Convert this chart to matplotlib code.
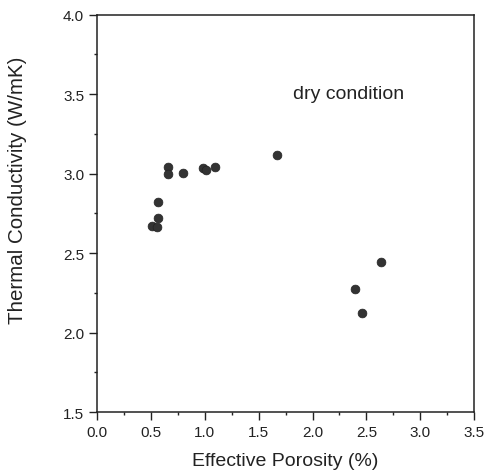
import matplotlib
matplotlib.use("Agg")
import matplotlib.pyplot as plt
from matplotlib.ticker import MultipleLocator

plt.rcParams['font.family'] = ['Liberation Sans', 'DejaVu Sans']

porosity = [0.664, 0.664, 0.797, 0.988, 1.013, 1.094, 1.674, 0.571, 0.571, 0.510, 0.556, 2.632, 2.394, 2.462]
conductivity = [3.040, 2.998, 3.003, 3.036, 3.025, 3.042, 3.119, 2.824, 2.721, 2.673, 2.667, 2.447, 2.275, 2.124]

x_ticks = [0.0, 0.5, 1.0, 1.5, 2.0, 2.5, 3.0, 3.5]
y_ticks = [1.5, 2.0, 2.5, 3.0, 3.5, 4.0]

fig = plt.figure(figsize=(4.87, 4.77), dpi=100)
ax = fig.add_axes([0.1986, 0.134, 0.7754, 0.833])

ax.scatter(porosity, conductivity, s=40, color='#333333', edgecolors='#222222', linewidths=0.5, zorder=3)

ax.set_xlim(0, 3.5)
ax.set_ylim(1.5, 4.0)
ax.set_xticks(x_ticks)
ax.set_yticks(y_ticks)
ax.set_xticklabels([f"{v:.1f}" for v in x_ticks])
ax.set_yticklabels([f"{v:.1f}" for v in y_ticks])
ax.xaxis.set_minor_locator(MultipleLocator(0.25))
ax.yaxis.set_minor_locator(MultipleLocator(0.25))
ax.tick_params(which='major', direction='out', length=6, width=1, labelsize=11, colors='#222222', pad=3)
ax.tick_params(which='minor', direction='out', length=2.5, width=1, colors='#222222')
for s in ax.spines.values():
    s.set_linewidth(1.1)
    s.set_color('#222222')

ax.set_xlabel('Effective Porosity (%)', fontsize=14, color='#222222', labelpad=10)
ax.set_ylabel('Thermal Conductivity (W/mK)', fontsize=14.8, color='#222222', labelpad=26)
ax.yaxis.label.set_y(0.56)

ax.text(1.82, 3.476, 'dry condition', fontsize=14, color='#222222', va='baseline')

fig.savefig('out.png', dpi=100)
